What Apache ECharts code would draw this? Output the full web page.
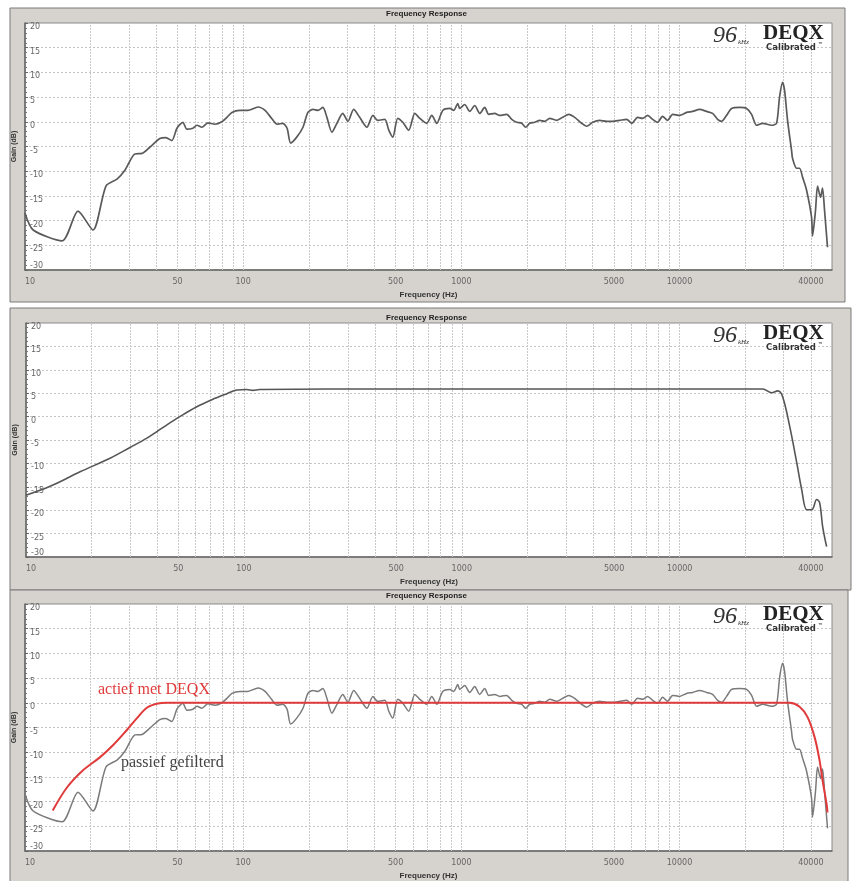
<!DOCTYPE html>
<html>
<head>
<meta charset="utf-8">
<script src="https://cdn.jsdelivr.net/npm/echarts@6/dist/echarts.min.js"></script>
<style>
  html, body { margin: 0; padding: 0; background: #ffffff; }
  #chart { width: 853px; height: 881px; }
</style>
</head>
<body>
<div id="chart"></div>
<script>
// ---- Data ----
const passiveFreq = [10, 10.9, 14.8, 17.5, 20.5, 23.5, 26.4, 28.7, 31.9, 34.4, 37.4, 41.5, 44.2, 47.1, 49.7, 52.9, 55.2, 58.8, 61.4, 64.7, 68.9, 74.2, 79.9, 84.2, 88.8, 96.6, 105, 117, 126, 135, 143, 152, 159, 165, 176, 188, 198, 209, 220, 232, 242, 255, 269, 286, 302, 321, 342, 369, 393, 414, 446, 465, 485, 511, 539, 574, 612, 645, 694, 732, 772, 822, 885, 923, 963, 983, 1036, 1093, 1152, 1214, 1280, 1335, 1422, 1500, 1614, 1702, 1794, 1891, 1972, 2057, 2169, 2286, 2410, 2541, 2735, 2914, 3105, 3308, 3561, 3753, 3999, 4305, 4634, 4937, 5316, 5724, 6034, 6429, 6776, 7143, 7530, 7937, 8367, 8820, 9298, 10012, 10777, 11482, 12363, 13311, 14181, 14947, 15590, 16433, 17330, 18857, 20299, 21398, 22558, 24036, 26419, 27850, 28743, 29669, 30300, 31280, 32630, 32970, 34390, 35500, 36640, 38210, 40290, 40720, 42020, 42920, 44300, 45240, 46210, 47690];
const passiveGain = [-18.5, -21.9, -24.1, -18.1, -21.9, -13.0, -11.6, -9.8, -6.5, -6.4, -5.1, -3.4, -3.2, -3.8, -1.3, -0.1, -1.5, -1.3, -0.7, -1.1, -0.2, -0.5, 0.0, 0.9, 1.9, 2.3, 2.3, 3.0, 2.3, 0.7, -0.5, -0.3, -1.3, -4.3, -3.1, -1.1, 1.9, 2.5, 2.3, 2.9, 0.9, -2.1, -0.3, 1.7, 0.1, 2.5, 0.9, -1.1, 1.3, 0.3, 0.5, -1.7, -3.1, 0.7, -0.1, -1.7, 1.7, 0.7, -0.3, 1.3, -0.3, 2.3, 2.7, 2.3, 3.7, 2.7, 3.5, 2.1, 3.3, 1.7, 2.9, 1.5, 1.7, 1.3, 1.5, 0.5, -0.1, -0.3, -1.1, -0.3, -0.1, 0.3, 0.1, 0.7, 0.3, 0.9, 1.5, 0.9, -0.3, -0.9, -0.1, 0.3, 0.1, 0.1, 0.3, 0.5, -0.3, 0.9, 0.7, 1.3, 0.5, -0.1, 1.1, 0.3, 1.5, 1.3, 1.9, 2.1, 2.5, 2.1, 1.7, 0.5, 0.1, 1.3, 2.7, 2.9, 2.7, 1.5, -0.7, -0.3, -0.7, -0.3, 5.0, 8.0, 6.4, 0.3, -5.8, -7.4, -9.4, -9.4, -11.2, -13.8, -19.3, -23.1, -17.9, -13.0, -15.3, -13.4, -17.9, -25.4];

const deqxFreq = [10, 12.9, 17.7, 24.3, 30.0, 35.9, 39.9, 44.5, 50.8, 60.8, 71.3, 83.6, 92.9, 103, 110, 118, 500, 2000, 10000, 24040, 26420, 28180, 29650, 31980, 34430, 36300, 38280, 40370, 42550, 43890, 45290, 47230];
const deqxGain = [-16.8, -14.9, -11.8, -8.9, -6.6, -4.6, -3.2, -1.7, 0.0, 2.1, 3.6, 4.9, 5.7, 5.8, 5.6, 5.8, 5.9, 5.9, 5.9, 5.9, 5.1, 5.5, 4.3, -2.1, -9.8, -15.6, -19.9, -19.9, -17.7, -18.4, -23.5, -27.8];

const activeFreq = [13.4, 15.6, 18.4, 22.1, 25.3, 29.3, 32.6, 36.2, 40.2, 44.7, 1000, 31940, 35500, 38630, 41580, 43830, 45250, 47190, 47690];
const activeGain = [-21.8, -17.1, -13.7, -11.0, -8.6, -5.5, -3.1, -1.0, -0.2, 0.0, 0.0, 0.0, -0.8, -2.9, -6.9, -11.6, -15.7, -20.4, -22.2];

const xTickLabels = [10, 50, 100, 500, 1000, 5000, 10000, 40000];
const xGridLines = [20, 30, 40, 50, 60, 70, 80, 90, 100, 200, 300, 400, 500, 600, 700, 800, 900, 1000, 2000, 3000, 4000, 5000, 6000, 7000, 8000, 9000, 10000, 20000, 30000, 40000];
const yMin = -30, yMax = 20, yStep = 5;
const chartTitle = 'Frequency Response';
const xName = 'Frequency (Hz)';
const yName = 'Gain (dB)';
const activeLabel = 'actief met DEQX';
const passiveLabel = 'passief gefilterd';

// ---- Layout ----
const panels = [
  { frame: [10, 8, 835, 294], grid: { left: 25, top: 23, width: 807, height: 247 } },
  { frame: [10, 308, 841, 282], grid: { left: 26, top: 323, width: 806, height: 234 } },
  { frame: [10, 590, 838, 300], grid: { left: 25, top: 604, width: 807, height: 247 } }
];

const pairs = (xs, ys) => xs.map((x, i) => [x, ys[i]]);

const grids = panels.map(p => Object.assign({
  show: true, backgroundColor: '#ffffff', borderColor: '#8a8a8a', borderWidth: 1
}, p.grid));

const xAxes = panels.map((p, i) => ({
  type: 'log', logBase: 10, gridIndex: i, min: 10, max: 50000,
  name: xName, nameLocation: 'middle', nameGap: 21,
  nameTextStyle: { fontFamily: 'Liberation Sans', fontWeight: 'bold', fontSize: 8, color: '#333' },
  axisLine: { show: true, onZero: false, lineStyle: { color: '#666', width: 1.5 } },
  axisTick: { show: false },
  splitLine: { show: false },
  minorSplitLine: { show: false },
  axisLabel: {
    customValues: xTickLabels, fontFamily: 'DejaVu Sans', fontSize: 8, color: '#666', margin: 8,
    alignMinLabel: 'left',
    formatter: v => String(Math.round(v))
  }
}));

const yAxes = panels.map((p, i) => ({
  type: 'value', gridIndex: i, min: yMin, max: yMax, interval: yStep,
  name: yName, nameLocation: 'middle', nameGap: -4, nameRotate: 90,
  nameTextStyle: { fontFamily: 'Liberation Sans', fontWeight: 'bold', fontSize: 7, color: '#333' },
  axisLine: { show: true, onZero: false, lineStyle: { color: '#666', width: 1.5 } },
  axisTick: { show: true, inside: true, length: 3, lineStyle: { color: '#666' } },
  minorTick: { show: true, splitNumber: 5, length: 2, lineStyle: { color: '#777' } },
  splitLine: { show: true, lineStyle: { color: '#c4c4c4', type: [2, 2], width: 1 } },
  axisLabel: {
    inside: true, fontFamily: 'DejaVu Sans', fontSize: 8, color: '#666', margin: 5,
    verticalAlign: 'top',
    verticalAlignMaxLabel: 'top', verticalAlignMinLabel: 'bottom'
  }
}));

function gridSeries(i) {
  return {
    type: 'line', xAxisIndex: i, yAxisIndex: i, data: [], silent: true,
    markLine: {
      silent: true, symbol: 'none', label: { show: false },
      lineStyle: { color: '#cacaca', type: [2, 1], width: 1 },
      data: xGridLines.map(v => ({ xAxis: v }))
    }
  };
}

const series = [
  gridSeries(0), gridSeries(1), gridSeries(2),
  { type: 'line', xAxisIndex: 0, yAxisIndex: 0, data: pairs(passiveFreq, passiveGain), showSymbol: false,
    smooth: 0.25,
    lineStyle: { color: '#5a5a5a', width: 1.7 }, z: 5 },
  { type: 'line', xAxisIndex: 1, yAxisIndex: 1, data: pairs(deqxFreq, deqxGain), showSymbol: false,
    smooth: 0.35,
    lineStyle: { color: '#555555', width: 1.6 }, z: 5 },
  { type: 'line', xAxisIndex: 2, yAxisIndex: 2, data: pairs(passiveFreq, passiveGain), showSymbol: false,
    smooth: 0.25,
    lineStyle: { color: '#7a7a7a', width: 1.5 }, z: 5 },
  { type: 'line', xAxisIndex: 2, yAxisIndex: 2, data: pairs(activeFreq, activeGain), showSymbol: false,
    smooth: 0.35,
    lineStyle: { color: '#e03a3a', width: 2 }, z: 6 }
];

const graphics = [];
panels.forEach((p, i) => {
  const [fx, fy, fw, fh] = p.frame;
  graphics.push({ type: 'rect', z: -10, shape: { x: fx, y: fy, width: fw, height: fh },
    style: { fill: '#d6d3ce', stroke: '#7a7a7a', lineWidth: 1 } });
  const dy = p.grid.top;
  graphics.push({ type: 'text', z: 10, x: 713, y: dy + 13,
    style: { text: '96', font: 'italic 24px "Liberation Serif"', fill: '#333', verticalAlign: 'middle' } });
  graphics.push({ type: 'text', z: 10, x: 738, y: dy + 19,
    style: { text: 'kHz', font: 'italic 7px "Liberation Serif"', fill: '#333', verticalAlign: 'middle' } });
  graphics.push({ type: 'text', z: 10, x: 763, y: dy + 11,
    style: { text: 'DEQX', font: 'bold 21px "Liberation Serif"', fill: '#222', verticalAlign: 'middle' } });
  graphics.push({ type: 'text', z: 10, x: 766, y: dy + 25,
    style: { text: 'Calibrated', font: 'bold 8.5px "DejaVu Sans"', fill: '#333', verticalAlign: 'middle' } });
  graphics.push({ type: 'text', z: 10, x: 818, y: dy + 22,
    style: { text: '™', font: 'bold 5px "DejaVu Sans"', fill: '#333', verticalAlign: 'middle' } });
});
graphics.push({ type: 'text', z: 10, x: 98, y: 690,
  style: { text: activeLabel, font: '16px "Liberation Serif"', fill: '#e03a3a', verticalAlign: 'middle' } });
graphics.push({ type: 'text', z: 10, x: 121, y: 763,
  style: { text: passiveLabel, font: '16px "Liberation Serif"', fill: '#444', verticalAlign: 'middle' } });

const titles = [10, 314, 592].map(t => ({
  text: chartTitle, left: 'center', top: t, padding: 0,
  textStyle: { fontFamily: 'Liberation Sans', fontWeight: 'bold', fontSize: 8, color: '#222' }
}));

const chart = echarts.init(document.getElementById('chart'), null, { renderer: 'canvas' });
chart.setOption({
  backgroundColor: '#ffffff',
  animation: false,
  title: titles,
  grid: grids,
  xAxis: xAxes,
  yAxis: yAxes,
  series: series,
  graphic: graphics
});
</script>
</body>
</html>
